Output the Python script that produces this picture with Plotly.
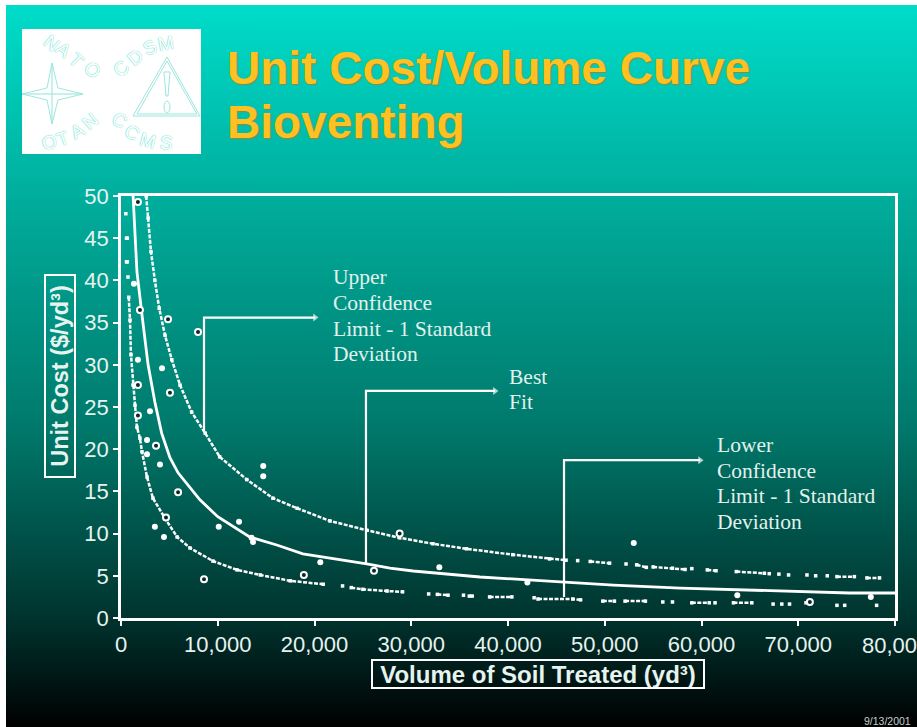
import base64
import plotly.graph_objects as go

W, H = 917, 727

# ---- data ----
best_x = [1250, 1650, 2170, 2800, 3500, 4200, 5060, 5900, 8160, 10000, 13300, 16100, 18800, 21600, 25400, 27800,
          30200, 37100, 45700, 50900, 57800, 67400, 75300, 80200]
best_y = [50, 41, 35.9, 30, 25.6, 21.9, 19, 17.2, 14, 12, 9.6, 8.65, 7.6, 7.1, 6.4, 5.9,
          5.57, 4.86, 4.3, 3.9, 3.55, 3.2, 2.96, 2.96]

upper_x = [2600, 2800, 3100, 3500, 3950, 4550, 5250, 6100, 7300, 8700, 10200, 13000, 15700, 18200, 21600, 25400,
           28800, 32250, 35700, 40500, 44300, 46000, None, 47200, None, 48500, 50500, None, 52200, None, 53300, 54300, None,
           55000, 57000, 58300, None, 59000, None, 60600, 61500, None, 63600, 66500, None, 67000, None, 68000, None, 69000,
           None, 70900, None, 71800, None, 73000, None, 74000, 75800, None, 77100, 78400]
upper_y = [50, 47.4, 43.4, 40, 36.7, 33.5, 30.6, 27.6, 24.4, 21.9, 19.1, 16.4, 14.2, 13.0, 11.5, 10.4,
           9.5, 8.8, 8.2, 7.5, 7.0, 6.85, None, 6.8, None, 6.7, 6.5, None, 6.4, None, 6.3, 6.0, None,
           6.05, 5.9, 5.75, None, 5.85, None, 5.7, 5.6, None, 5.5, 5.3, None, 5.25, None, 5.2, None, 5.1,
           None, 5.1, None, 5.0, None, 5.0, None, 4.9, 4.9, None, 4.75, 4.75]

lower_x = [500, None, 570, 650, None, 570, 650, None, 720, None, 800, 930, 1030, 1240, 1450, 1650, 1960, 2170, 2690, 3300, 4550,
           5800, 7130, 9500, 12000, 14400, 17500, 20900, None, 22900, None, 23800, 25000, 27500, 29100, None, 31800, None, 32700, 33800,
           None, 35400, None, 36000, 36300, None, 38100, 40400, None, 42700, None, 43100, 46700, 47500, None, 49800, 51000,
           None, 52100, 54200, None, 56000, None, 57000, None, 59000, 60800, None, 61400, None, 63300, 65200, None,
           67400, None, 68300, None, 69100, None, 70800, None, 74000, None, 74800, None, 78100]
lower_y = [47.9, None, 45, 45, None, 42.2, 42.2, None, 40.4, None, 38, 35.3, 31.2, 27.6, 25.2, 22.6, 21.3, 19.7, 16.7, 14.2, 11.8,
           9.6, 8.3, 6.75, 5.7, 5.1, 4.4, 4, None, 3.8, None, 3.6, 3.4, 3.2, 3.1, None, 2.85, None, 2.8, 2.7,
           None, 2.7, None, 2.6, 2.6, None, 2.5, 2.5, None, 2.4, None, 2.25, 2.25, 2.15, None, 2, 2,
           None, 2, 2, None, 1.9, None, 1.9, None, 1.8, 1.8, None, 1.8, None, 1.8, 1.8, None,
           1.65, None, 1.65, None, 1.65, None, 1.8, None, 1.5, None, 1.5, None, 1.5]

ringed_x = [1750, 1960, 4860, 7960, 1750, 5060, 1750, 3620, 5900, 4650, 8580, 18900, 26150, 28800, 71200]
ringed_y = [49.3, 36.5, 35.4, 33.9, 27.6, 26.7, 24, 20.4, 14.9, 11.9, 4.6, 5.1, 5.6, 10, 1.9]

blob_x = [1340, 1750, 4240, 3000, 2690, 2690, 4030, 3500, 4440, 10100, 12200, 14700, 14700, 13500, 13650, 20600,
          32900, 42000, 53000, 63700, 77500]
blob_y = [39.6, 30.6, 29.6, 24.5, 21.1, 19.4, 18.2, 10.8, 9.6, 10.8, 11.4, 18, 16.8, 9.5, 9.0, 6.6,
          6, 4.2, 8.9, 2.7, 2.5]

callout_upper_x = [8580, 8580, 20050]
callout_upper_y = [22, 35.6, 35.6]
callout_best_x = [25320, 25320, 38650]
callout_best_y = [6.4, 26.9, 26.9]
callout_lower_x = [45790, 45790, 59850]
callout_lower_y = [2.5, 18.7, 18.7]

x_ticks = [0, 10000, 20000, 30000, 40000, 50000, 60000, 70000, 80000]
x_tick_labels = ["0", "10,000", "20,000", "30,000", "40,000", "50,000", "60,000", "70,000", ""]
last_x_label = "80,000"
y_ticks = [0, 5, 10, 15, 20, 25, 30, 35, 40, 45, 50]

title_lines = ["Unit Cost/Volume Curve", "Bioventing"]
upper_label = ["Upper", "Confidence", "Limit - 1 Standard", "Deviation"]
best_label = ["Best", "Fit"]
lower_label = ["Lower", "Confidence", "Limit - 1 Standard", "Deviation"]

# ---- helpers ----
px = lambda v: v / W
py = lambda v: 1 - v / H

svg = ('<svg xmlns="http://www.w3.org/2000/svg" width="911" height="722" preserveAspectRatio="none">'
       '<defs><linearGradient id="g" x1="0" y1="0" x2="0" y2="1">'
       '<stop offset="0" stop-color="#00dcca"/><stop offset="0.27" stop-color="#00ad9c"/>'
       '<stop offset="0.58" stop-color="#007a6c"/><stop offset="0.85" stop-color="#00332e"/>'
       '<stop offset="1" stop-color="#000000"/></linearGradient></defs>'
       '<rect width="911" height="722" fill="url(#g)"/></svg>')
bg_src = "data:image/svg+xml;base64," + base64.b64encode(svg.encode()).decode()

TXT = "#e6f3ef"
fig = go.Figure()

for xs, ys in [(callout_upper_x, callout_upper_y), (callout_best_x, callout_best_y), (callout_lower_x, callout_lower_y)]:
    fig.add_trace(go.Scatter(x=xs, y=ys, mode="lines+markers", cliponaxis=False,
                             line=dict(color="white", width=2.2),
                             marker=dict(symbol="triangle-right", size=[0, 0, 7], color="white", line=dict(width=0))))

fig.add_trace(go.Scatter(x=upper_x, y=upper_y, mode="lines+markers", connectgaps=False,
                         line=dict(color="white", width=2.5, dash="4px,1.5px"),
                         marker=dict(symbol="square", size=3.5, color="white", line=dict(width=0))))
fig.add_trace(go.Scatter(x=lower_x, y=lower_y, mode="lines+markers", connectgaps=False,
                         line=dict(color="white", width=2.5, dash="4px,1.5px"),
                         marker=dict(symbol="square", size=3.5, color="white", line=dict(width=0))))
fig.add_trace(go.Scatter(x=best_x, y=best_y, mode="lines", cliponaxis=False,
                         line=dict(color="white", width=2.8)))
fig.add_trace(go.Scatter(x=blob_x, y=blob_y, mode="markers",
                         marker=dict(symbol="circle", size=6, color="white", line=dict(width=0))))
fig.add_trace(go.Scatter(x=ringed_x, y=ringed_y, mode="markers", cliponaxis=False,
                         marker=dict(symbol="circle", size=6, color="#0a2a26", line=dict(color="white", width=2))))

# logo shapes
logo_line = "#9ce6de"
shapes = [dict(type="rect", xref="paper", yref="paper", x0=px(22), x1=px(201), y0=py(154), y1=py(29),
               fillcolor="white", line=dict(width=0), layer="below")]


def pth(points):
    return "M " + " L ".join(f"{px(a):.4f},{py(b):.4f}" for a, b in points) + " Z"


star = [(52, 63), (58, 88), (83, 94), (58, 100), (52, 124), (47, 100), (22, 94), (47, 88)]
shapes.append(dict(type="path", xref="paper", yref="paper", path=pth(star), line=dict(color=logo_line, width=1), layer="below"))
shapes.append(dict(type="path", xref="paper", yref="paper", path=pth([(52, 63), (52, 124)]), line=dict(color=logo_line, width=0.7), layer="below"))
shapes.append(dict(type="path", xref="paper", yref="paper", path=pth([(22, 94), (83, 94)]), line=dict(color=logo_line, width=0.7), layer="below"))
for tri in ([(167, 57), (133, 116), (200, 116)], [(167, 61), (137, 114), (197, 114)]):
    shapes.append(dict(type="path", xref="paper", yref="paper", path=pth(tri), line=dict(color=logo_line, width=1), layer="below"))
shapes.append(dict(type="path", xref="paper", yref="paper", path=pth([(164, 72), (170, 72), (168, 96), (166, 96)]), line=dict(color=logo_line, width=1), layer="below"))
shapes.append(dict(type="circle", xref="paper", yref="paper", x0=px(164), x1=px(170), y0=py(113), y1=py(101), line=dict(color=logo_line, width=1), layer="below"))

ann = []
logo_letters = [("N", 52, 43, 40), ("A", 63, 50, 40), ("T", 77, 60, 45), ("O", 92, 70, 45),
                ("C", 121, 68, -45), ("D", 135, 57, -40), ("S", 150, 48, -25), ("M", 166, 43, -10),
                ("O", 49, 142, -10), ("T", 63, 138, -20), ("A", 77, 131, -30), ("N", 90, 121, -40),
                ("C", 120, 120, 35), ("C", 132, 133, 30), ("M", 148, 140, 15), ("S", 166, 142, 5)]
for ch, a, b, rot in logo_letters:
    ann.append(dict(text=ch, xref="paper", yref="paper", x=px(a), y=py(b), xanchor="center", yanchor="middle",
                    showarrow=False, textangle=rot,
                    font=dict(family="Liberation Sans", size=19, color="white", shadow="0 0 1.2px #62d8cc, 0 0 1px #62d8cc")))

for line, b in zip(title_lines, [68, 122]):
    ann.append(dict(text=f"<b>{line}</b>", xref="paper", yref="paper", x=px(225), y=py(b), xanchor="left", yanchor="middle",
                    showarrow=False, font=dict(family="Liberation Sans", size=46, color="#ffc021", shadow="1px 1px 1px #8a8a3a")))

for label, a, b0, step in [(upper_label, 330.5, 277, 25.8), (best_label, 506.5, 377, 25), (lower_label, 714.5, 445, 25.7)]:
    for i, line in enumerate(label):
        ann.append(dict(text=line, xref="paper", yref="paper", x=px(a), y=py(b0 + i * step), xanchor="left", yanchor="middle",
                        showarrow=False, font=dict(family="Liberation Serif", size=21.5, color="#e2f1ec")))

ann.append(dict(text=last_x_label, xref="paper", yref="paper", x=px(895), y=py(645), xanchor="center", yanchor="middle",
                showarrow=False, font=dict(family="Liberation Sans", size=22, color=TXT)))
ann.append(dict(text="<b>Volume of Soil Treated (yd³)</b>", xref="paper", yref="paper", x=px(538), y=py(673.5),
                xanchor="center", yanchor="middle", showarrow=False, width=330, height=26, bordercolor="white", borderwidth=2, borderpad=0,
                font=dict(family="Liberation Sans", size=24, color=TXT)))
ann.append(dict(text="<b>Unit Cost ($/yd³)</b>", xref="paper", yref="paper", x=px(59.5), y=py(376.5),
                xanchor="center", yanchor="middle", showarrow=False, textangle=-90, width=200, height=28, bordercolor="white", borderwidth=2, borderpad=0,
                font=dict(family="Liberation Sans", size=23.5, color=TXT)))
ann.append(dict(text="9/13/2001", xref="paper", yref="paper", x=px(913), y=py(720.5), xanchor="right", yanchor="middle",
                showarrow=False, font=dict(family="Liberation Sans", size=10.5, color="#c4cfcc")))

fig.update_layout(
    width=W, height=H, margin=dict(l=0, r=0, t=0, b=0, autoexpand=False), showlegend=False,
    paper_bgcolor="white", plot_bgcolor="rgba(0,0,0,0)", hovermode=False,
    images=[dict(source=bg_src, xref="paper", yref="paper", x=px(6), y=py(5), sizex=px(911), sizey=722 / H,
                 xanchor="left", yanchor="top", sizing="stretch", layer="below")],
    shapes=shapes, annotations=ann,
    xaxis=dict(domain=[px(121), px(895)], range=[0, 80000], tickvals=x_ticks, ticktext=x_tick_labels,
               showgrid=False, zeroline=False, showline=True, mirror=True, linecolor="white", linewidth=2.5,
               ticks="outside", ticklen=5, tickcolor="white", tickwidth=1.5,
               tickfont=dict(family="Liberation Sans", size=22, color=TXT)),
    yaxis=dict(domain=[py(618), py(196)], range=[0, 50], tickvals=y_ticks,
               showgrid=False, zeroline=False, showline=True, mirror=True, linecolor="white", linewidth=2.5,
               ticks="outside", ticklen=5, tickcolor="white", tickwidth=1.5,
               tickfont=dict(family="Liberation Sans", size=22, color=TXT)),
)

fig.write_html("out.html", config=dict(displayModeBar=False),
               post_script="document.body.style.margin='0';document.documentElement.style.overflow='hidden';")
